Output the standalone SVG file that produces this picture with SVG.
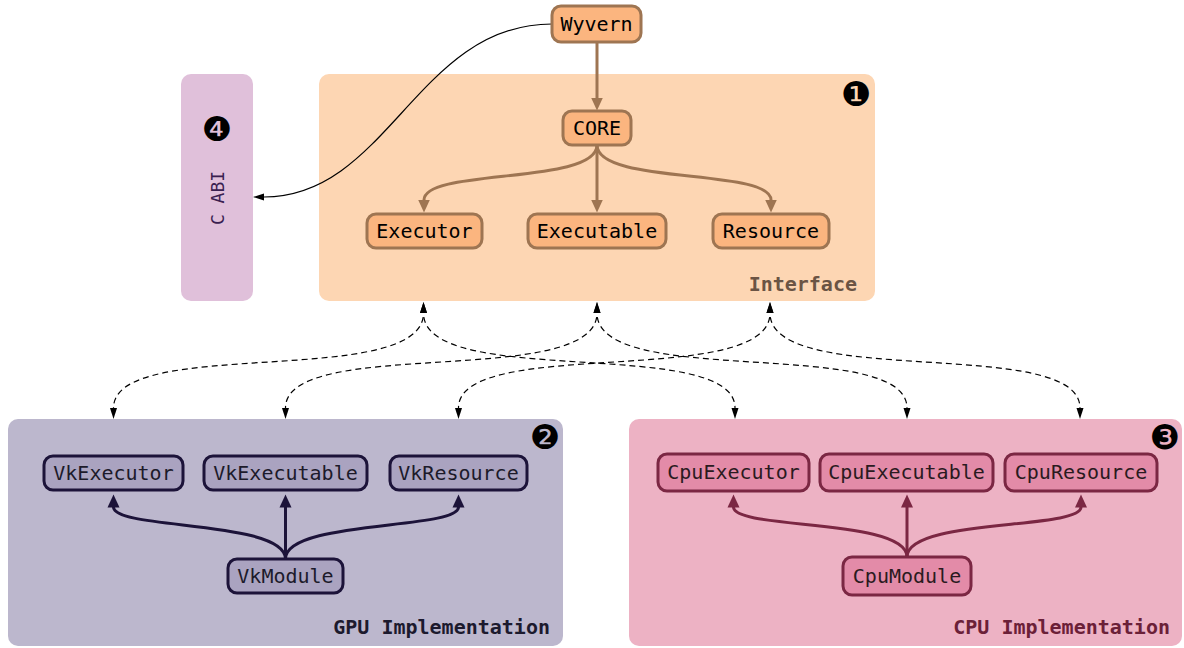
<svg xmlns="http://www.w3.org/2000/svg" width="1184" height="648" viewBox="0 0 1184 648">
<style>
.t{font-family:"DejaVu Sans Mono","Liberation Mono",monospace;font-size:20px;text-anchor:middle}
.lbl{font-family:"DejaVu Sans Mono","Liberation Mono",monospace;font-size:20px;font-weight:bold;text-anchor:end}
.num{font-family:"DejaVu Sans","Noto Sans CJK SC",sans-serif;font-size:34px;text-anchor:middle;fill:#000}
.on{fill:#fbb57f;stroke:#9e7552;stroke-width:3}
.gn{fill:#aaa3c0;stroke:#1c1339;stroke-width:3}
.cn{fill:#e38ba8;stroke:#7b2743;stroke-width:3}
.ba{fill:none;stroke:#9e7552;stroke-width:3;marker-end:url(#mb)}
.ga{fill:none;stroke:#1c1339;stroke-width:3;marker-end:url(#mg)}
.ca{fill:none;stroke:#7b2743;stroke-width:3;marker-end:url(#mc)}
.da{fill:none;stroke:#000;stroke-width:1.2;stroke-dasharray:6 4;stroke-dashoffset:6;marker-start:url(#md);marker-end:url(#md)}
</style>
<defs>
<marker id="mb" markerUnits="userSpaceOnUse" markerWidth="14" markerHeight="14" viewBox="0 -7 14 14" refX="0.5" refY="0" orient="auto"><path d="M0,-6 L13,0 L0,6 z" fill="#9e7552"/></marker>
<marker id="mg" markerUnits="userSpaceOnUse" markerWidth="14" markerHeight="14" viewBox="0 -7 14 14" refX="0.5" refY="0" orient="auto"><path d="M0,-6 L13,0 L0,6 z" fill="#1c1339"/></marker>
<marker id="mc" markerUnits="userSpaceOnUse" markerWidth="14" markerHeight="14" viewBox="0 -7 14 14" refX="0.5" refY="0" orient="auto"><path d="M0,-6 L13,0 L0,6 z" fill="#7b2743"/></marker>
<marker id="md" markerUnits="userSpaceOnUse" markerWidth="12" markerHeight="10" viewBox="0 -5 12 10" refX="0" refY="0" orient="auto-start-reverse"><path d="M0,-3.5 L11,0 L0,3.5 z" fill="#000"/></marker>
<marker id="mk" markerUnits="userSpaceOnUse" markerWidth="12" markerHeight="10" viewBox="0 -5 12 10" refX="0" refY="0" orient="auto"><path d="M0,-3.5 L11,0 L0,3.5 z" fill="#000"/></marker>
</defs>

<g id="cabi">
<rect x="181" y="74" width="72" height="227" rx="10" fill="#e0c0da"/>
<text class="num" x="217" y="141">❹</text>
<text x="217" y="198" transform="rotate(-90 217 198)" font-family="DejaVu Sans Mono, Liberation Mono, monospace" font-size="18" fill="#3a2050" text-anchor="middle" dominant-baseline="central">C ABI</text>
</g>

<g id="interface">
<rect x="319" y="74" width="556" height="227" rx="10" fill="#fdd6b3"/>
<text class="num" x="856" y="106">❶</text>
<text class="lbl" x="857" y="291" fill="#6b5444">Interface</text>
</g>

<g id="gpu">
<rect x="8" y="419" width="555" height="227" rx="10" fill="#bcb7cd"/>
<text class="num" x="545" y="449">❷</text>
<text class="lbl" x="550" y="634" fill="#1c1a2e">GPU Implementation</text>
</g>

<g id="cpu">
<rect x="629" y="419" width="553" height="227" rx="10" fill="#edb2c4"/>
<text class="num" x="1165" y="449">❸</text>
<text class="lbl" x="1170" y="634" fill="#6b2038">CPU Implementation</text>
</g>

<g id="connectors">
<path d="M552,24 C417,24 388,197 264,197" fill="none" stroke="#000" stroke-width="1.2" marker-end="url(#mk)"/>
<path class="ba" d="M597,43 L597,98"/>
<path class="ba" d="M597,145 C597,185 424,168 424,200"/>
<path class="ba" d="M597,145 L597,200"/>
<path class="ba" d="M597,145 C597,185 771,168 771,200"/>

<path class="ga" d="M285.5,559 C285.5,520 113.5,530 113.5,507"/>
<path class="ga" d="M285.5,559 L285.5,507"/>
<path class="ga" d="M285.5,559 C285.5,520 458.5,530 458.5,507"/>

<path class="ca" d="M907,557 C907,518 733.5,530 733.5,507"/>
<path class="ca" d="M907,557 L907,507"/>
<path class="ca" d="M907,557 C907,518 1081,530 1081,507"/>

<path class="da" d="M423.5,313 C423.5,390 113.5,335 113.5,408"/>
<path class="da" d="M423.5,313 C423.5,390 735,335 735,408"/>
<path class="da" d="M597,313 C597,390 285.5,335 285.5,408"/>
<path class="da" d="M597,313 C597,390 907,335 907,408"/>
<path class="da" d="M770,313 C770,390 458.5,335 458.5,408"/>
<path class="da" d="M770,313 C770,390 1080,335 1080,408"/>
</g>

<g id="wyvern"><rect class="on" x="552" y="6" width="89" height="36" rx="9"/><text class="t" x="596.5" y="31">Wyvern</text></g>
<g id="core"><rect class="on" x="563" y="111" width="68" height="34" rx="9"/><text class="t" x="597" y="135">CORE</text></g>
<g id="executor"><rect class="on" x="367" y="214" width="115" height="34" rx="9"/><text class="t" x="424.5" y="238">Executor</text></g>
<g id="executable"><rect class="on" x="528" y="214" width="138" height="34" rx="9"/><text class="t" x="597" y="238">Executable</text></g>
<g id="resource"><rect class="on" x="713" y="214" width="116" height="34" rx="9"/><text class="t" x="771" y="238">Resource</text></g>

<g id="vkexecutor"><rect class="gn" x="44" y="456" width="139" height="34" rx="9"/><text class="t" x="113.5" y="480" fill="#1c1a2a">VkExecutor</text></g>
<g id="vkexecutable"><rect class="gn" x="204" y="456" width="163" height="34" rx="9"/><text class="t" x="285.5" y="480" fill="#1c1a2a">VkExecutable</text></g>
<g id="vkresource"><rect class="gn" x="390" y="456" width="137" height="34" rx="9"/><text class="t" x="458.5" y="480" fill="#1c1a2a">VkResource</text></g>
<g id="vkmodule"><rect class="gn" x="228" y="559" width="115" height="34" rx="9"/><text class="t" x="285.5" y="583" fill="#1c1a2a">VkModule</text></g>

<g id="cpuexecutor"><rect class="cn" x="658" y="454" width="151" height="37" rx="9"/><text class="t" x="733.5" y="479" fill="#2a1a20">CpuExecutor</text></g>
<g id="cpuexecutable"><rect class="cn" x="820" y="454" width="173" height="37" rx="9"/><text class="t" x="906.5" y="479" fill="#2a1a20">CpuExecutable</text></g>
<g id="cpuresource"><rect class="cn" x="1005" y="454" width="152" height="37" rx="9"/><text class="t" x="1081" y="479" fill="#2a1a20">CpuResource</text></g>
<g id="cpumodule"><rect class="cn" x="843" y="557" width="128" height="38" rx="9"/><text class="t" x="907" y="583" fill="#2a1a20">CpuModule</text></g>
</svg>
